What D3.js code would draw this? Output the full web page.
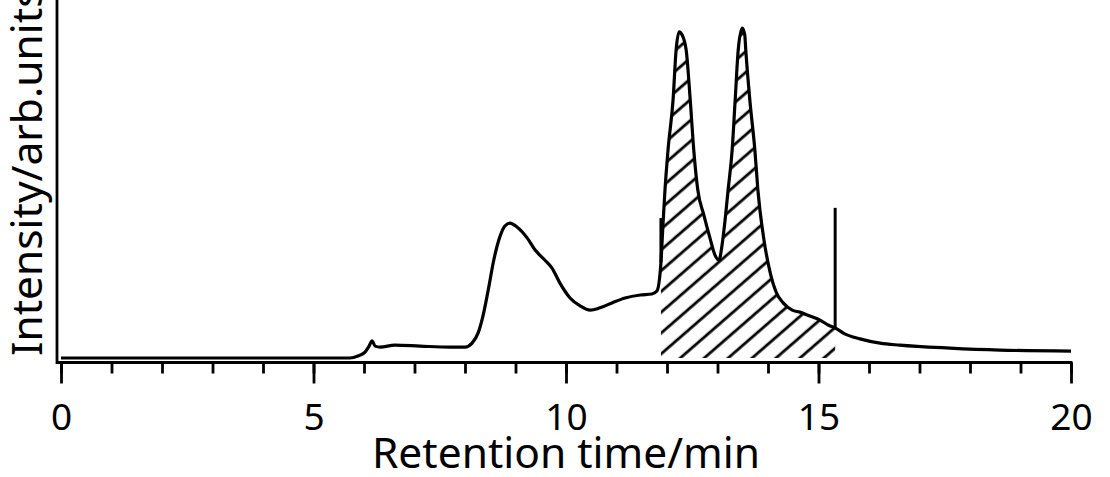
<!DOCTYPE html>
<html>
<head>
<meta charset="utf-8">
<script src="https://cdn.jsdelivr.net/npm/d3@7"></script>
<style>
  body { margin: 0; background: #fff; }
  text { font-family: "Noto Sans", "Open Sans", sans-serif; fill: #000; }
</style>
</head>
<body>
<div class="chromatogram"></div>
<script>
// chromatogram data (time in min, intensity in arb. units)
var times = [0, 5.72, 5.88, 6.02, 6.10, 6.16, 6.22, 6.32, 6.61, 7.11, 7.70, 8.00,
  8.14, 8.26, 8.36, 8.46, 8.57, 8.69, 8.79, 8.89, 9.03, 9.23, 9.39, 9.58, 9.72,
  9.88, 10.08, 10.28, 10.48, 10.67, 10.91, 11.17, 11.47, 11.70, 11.80, 11.88,
  11.92, 11.96, 12.02, 12.12, 12.18, 12.24, 12.30, 12.38, 12.46, 12.53, 12.61,
  12.73, 12.85, 12.95, 13.03, 13.09, 13.15, 13.21, 13.29, 13.35, 13.41, 13.49,
  13.54, 13.56, 13.64, 13.74, 13.80, 13.92, 14.04, 14.16, 14.30, 14.48, 14.63,
  14.83, 15.03, 15.19, 15.33, 15.52, 15.82, 16.22, 16.61, 17.60, 18.59, 20];
var intensity = [0, 0, 0.6, 1.8, 3.6, 5.2, 3.6, 3.3, 3.9, 3.6, 3.3, 3.3,
  4.5, 7.6, 13, 20.6, 29.7, 36.7, 40, 40.9, 39.7, 36.4, 32.7, 29.7, 27.3,
  22.7, 18.2, 15.8, 14.5, 15.2, 16.7, 18.2, 19.1, 19.4, 20.3, 29,
  40.3, 50.9, 63, 78.2, 93.3, 98.8, 97.9, 93.3, 78.2, 63, 50.9,
  43.3, 36.4, 31.2, 29.7, 34.2, 41.8, 50.9, 63, 78.2, 93.3, 100,
  97.9, 93.3, 78.2, 63, 50.9, 35.8, 26.1, 20, 16.7, 14.5, 13.9,
  12.7, 11.5, 10, 9.1, 7.3, 5.8, 4.5, 3.9, 3, 2.4, 2.1];

// integration window (start / end markers)
var markerTimes = [11.88, 15.33];
var markerTops = [42.4, 45.5];

// tick values
var minorTicks = d3.range(0, 21);
var majorTicks = [0, 5, 10, 15, 20];

var Width = 1110, Height = 477;

var svg = d3.select(".chromatogram").append("svg")
    .attr("width", Width)
    .attr("height", Height);

var x = d3.scaleLinear().domain([0, 20]).range([61, 1071]);
var y = d3.scaleLinear().domain([0, 100]).range([358, 28]);

var axisY = 362.5, axisX = 57;

var data = times.map(function(t, i) { return { t: t, v: intensity[i] }; });

// hatch pattern
var defs = svg.append("defs");
var pat = defs.append("pattern")
    .attr("id", "hatch")
    .attr("patternUnits", "userSpaceOnUse")
    .attr("width", 20)
    .attr("height", 15.7)
    .attr("patternTransform", "rotate(-41)");
pat.append("line")
    .attr("x1", -2).attr("x2", 22)
    .attr("y1", 10).attr("y2", 10)
    .attr("stroke", "#000")
    .attr("stroke-width", 2.8);

// hatched area under the curve
var areaData = data.filter(function(d) {
  return d.t >= markerTimes[0] && d.t <= markerTimes[1];
});
var area = d3.area()
    .curve(d3.curveMonotoneX)
    .x(function(d) { return x(d.t); })
    .y0(y(0))
    .y1(function(d) { return y(d.v); });
svg.append("path")
    .datum(areaData)
    .attr("d", area)
    .attr("fill", "url(#hatch)");

// the trace
var line = d3.line()
    .curve(d3.curveMonotoneX)
    .x(function(d) { return x(d.t); })
    .y(function(d) { return y(d.v); });
svg.append("path")
    .datum(data)
    .attr("d", line)
    .attr("fill", "none")
    .attr("stroke", "#000")
    .attr("stroke-width", 3.2)
    .attr("stroke-linejoin", "round");

// markers
markerTimes.forEach(function(t, i) {
  var d = data.find(function(p) { return p.t === t; });
  svg.append("line")
    .attr("x1", x(t)).attr("x2", x(t))
    .attr("y1", y(d.v)).attr("y2", y(markerTops[i]))
    .attr("stroke", "#000")
    .attr("stroke-width", 3);
});

// axes lines
svg.append("line")
    .attr("x1", axisX).attr("x2", x(20) + 1.4)
    .attr("y1", axisY).attr("y2", axisY)
    .attr("stroke", "#000").attr("stroke-width", 2.8);
svg.append("line")
    .attr("x1", axisX).attr("x2", axisX)
    .attr("y1", 0).attr("y2", axisY + 1.4)
    .attr("stroke", "#000").attr("stroke-width", 2.8);

// minor ticks
var minorAxis = svg.append("g")
    .attr("transform", "translate(0," + axisY + ")")
    .call(d3.axisBottom(x).tickValues(minorTicks).tickSize(11).tickSizeOuter(0).tickFormat(""));
minorAxis.select(".domain").remove();
minorAxis.selectAll("line").attr("stroke-width", 2.8);

// major ticks + labels
var majorAxis = svg.append("g")
    .attr("transform", "translate(0," + axisY + ")")
    .call(d3.axisBottom(x).tickValues(majorTicks).tickSize(21).tickSizeOuter(0).tickPadding(20));
majorAxis.select(".domain").remove();
majorAxis.selectAll("line").attr("stroke-width", 2.8);
majorAxis.selectAll("text")
    .attr("font-family", "Noto Sans")
    .attr("font-size", 37)
    .attr("fill", "#000");

// X axis label
svg.append("text")
    .attr("x", 566)
    .attr("y", 468)
    .attr("text-anchor", "middle")
    .style("font-size", "42.5px")
    .text("Retention time/min");

// Y axis label
svg.append("text")
    .attr("transform", "translate(42,356) rotate(-90)")
    .attr("text-anchor", "start")
    .style("font-size", "42.5px")
    .text("Intensity/arb.units");
</script>
</body>
</html>
